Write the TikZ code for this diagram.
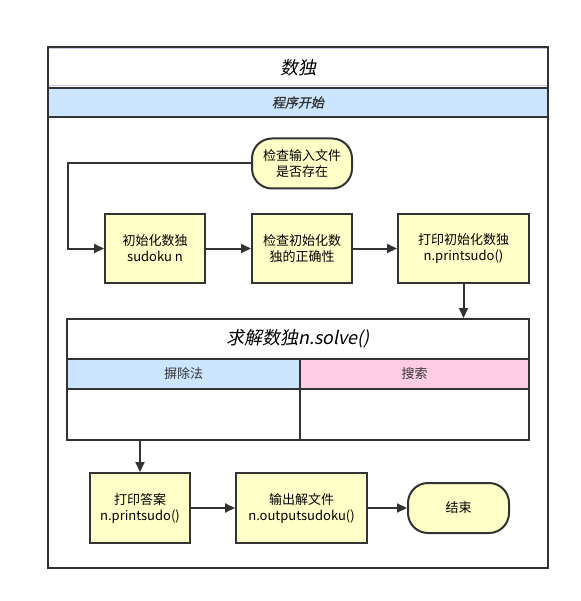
\documentclass[tikz,border=0pt]{standalone}
\usepackage{fontspec}
\setmainfont{Noto Sans CJK SC}
\newfontfamily\cjkit[FakeSlant=0.2]{Noto Sans CJK SC}
\newfontfamily\cjkbi[FakeSlant=0.2,FakeBold=1.2]{Noto Sans CJK SC}
\usetikzlibrary{arrows.meta}
\definecolor{stroke}{HTML}{333333}
\definecolor{yel}{HTML}{FFFFC8}
\definecolor{blu}{HTML}{CCE5FF}
\definecolor{pnk}{HTML}{FFCCE6}
\definecolor{lav}{HTML}{D5C4F0}
\tikzset{
  line/.style={draw=stroke,line width=2pt},
  arr/.style={line,-{Triangle[length=10pt,width=9pt]}},
  proc/.style={line,fill=yel,rectangle,inner sep=0pt,align=center,
    font=\fontsize{13}{16}\selectfont,text=black},
  term/.style={proc,rounded corners=20pt}
}
\begin{document}
\begin{tikzpicture}[x=1pt,y=-1pt]
\useasboundingbox (0,0) rectangle (580,601);
% outer frame
\fill[white] (48,47) rectangle (548,568);
\fill[blu] (48,88) rectangle (548,117);
\draw[lav,line width=1pt] (49,49) -- (547,49);
\draw[lav,line width=1pt] (49,86) -- (547,86);
\draw[line] (48,88) -- (548,88);
\draw[line] (48,117) -- (548,117);
\draw[line] (48,47) rectangle (548,568);
\node[font=\cjkit\fontsize{18}{20}\selectfont] (title) at (298,68) {数独};
\node[font=\cjkbi\fontsize{13}{15}\selectfont,text=stroke] (lane) at (298,102.5) {程序开始};
% nodes
\node[term,minimum width=100pt,minimum height=50pt] (start) at (302,163.5) {检查输入文件\\是否存在};
\node[proc,minimum width=100pt,minimum height=69pt] (b1) at (155,248.5) {初始化数独\\sudoku n};
\node[proc,minimum width=100pt,minimum height=69pt] (b2) at (302,248.5) {检查初始化数\\独的正确性};
\node[proc,minimum width=131pt,minimum height=69pt] (b3) at (463.5,248.5) {打印初始化数独\\n.printsudo()};
% solve container
\node[line,fill=white,rectangle,inner sep=0pt,minimum width=462pt,minimum height=121pt] (solve) at (298,379.5) {};
\fill[blu] (67,359) rectangle (300,389);
\fill[pnk] (300,359) rectangle (529,389);
\draw[line] (67,359) -- (529,359);
\draw[line] (67,389) -- (529,389);
\draw[line] (300,359) -- (300,440);
\draw[line] (67,319) rectangle (529,440);
\node[font=\cjkit\fontsize{18}{20}\selectfont] (stitle) at (298,339) {求解数独n.solve()};
\node[font=\fontsize{13}{15}\selectfont,text=stroke] (l1) at (183.5,374) {摒除法};
\node[font=\fontsize{13}{15}\selectfont,text=stroke] (l2) at (414.5,374) {搜索};
% bottom nodes
\node[proc,minimum width=100pt,minimum height=70pt] (ans) at (140,508) {打印答案\\n.printsudo()};
\node[proc,minimum width=131pt,minimum height=70pt] (out) at (301.5,508) {输出解文件\\n.outputsudoku()};
\node[term,minimum width=101pt,minimum height=50pt] (end) at (458.5,508) {结束};
% connectors
\coordinate (c1) at (68,163.5);
\draw[arr] (start.west) -- (c1) |- (b1.west);
\draw[arr] (b1) -- (b2);
\draw[arr] (b2) -- (b3);
\draw[arr] (b3) -- (b3 |- solve.north);
\draw[arr] (solve.south -| ans) -- (ans);
\draw[arr] (ans) -- (out);
\draw[arr] (out) -- (end);
\end{tikzpicture}
\end{document}
